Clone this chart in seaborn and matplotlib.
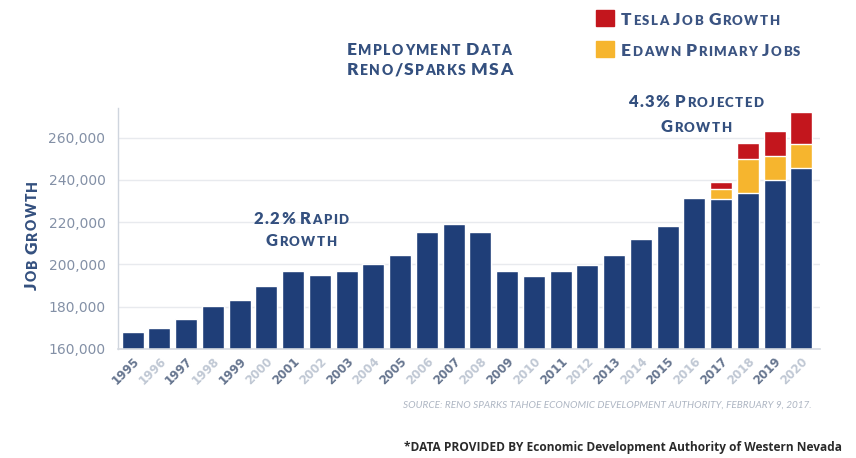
import matplotlib
matplotlib.use("Agg")
import matplotlib.pyplot as plt
import seaborn as sns
import pandas as pd
from matplotlib.patches import Rectangle

# ---- data ----
years = ["1995", "1996", "1997", "1998", "1999", "2000", "2001", "2002", "2003",
         "2004", "2005", "2006", "2007", "2008", "2009", "2010", "2011", "2012",
         "2013", "2014", "2015", "2016", "2017", "2018", "2019", "2020"]
base_jobs = [168000, 170000, 174000, 180500, 183000, 190000, 197000, 195000, 197000,
             200000, 204500, 215500, 219000, 215500, 197000, 194500, 197000, 199500,
             204500, 212000, 218000, 231500, 231000, 234000, 240000, 245500]
edawn_jobs = [0, 0, 0, 0, 0, 0, 0, 0, 0, 0, 0, 0, 0, 0, 0, 0, 0, 0, 0, 0, 0, 0,
              4500, 16000, 11500, 11500]
tesla_jobs = [0, 0, 0, 0, 0, 0, 0, 0, 0, 0, 0, 0, 0, 0, 0, 0, 0, 0, 0, 0, 0, 0,
              3500, 7500, 11500, 15000]
y_ticks = [160000, 180000, 200000, 220000, 240000, 260000]
legend_labels = ["Tesla Job Growth", "Edawn Primary Jobs"]

NAVY = "#1f3e78"
RED = "#c3161d"
YELLOW = "#f6b52e"
TITLE_C = "#34507f"

df = pd.DataFrame({"year": years, "base": base_jobs, "edawn": edawn_jobs, "tesla": tesla_jobs})
df["with_edawn"] = df["base"] + df["edawn"]
df["total"] = df["with_edawn"] + df["tesla"]

sns.set_theme(style="white")
plt.rcParams["font.family"] = ["Lato", "DejaVu Sans"]

W, H = 856, 458
fig = plt.figure(figsize=(W / 100, H / 100), dpi=100)
ax = fig.add_axes([118 / W, 1 - 349 / H, (820 - 118) / W, (349 - 108) / H])

bw = 0.82
sns.barplot(data=df, x="year", y="total", color=RED, saturation=1, width=bw, ax=ax)
sns.barplot(data=df, x="year", y="with_edawn", color=YELLOW, saturation=1, width=bw, ax=ax)
sns.barplot(data=df, x="year", y="base", color=NAVY, saturation=1, width=bw, ax=ax)

ax.set_ylim(160000, 274000)
ax.set_xlim(-0.55, 25.7)
ax.set_yticks(y_ticks)
ax.set_yticklabels([f"{v:,}" for v in y_ticks], fontsize=10, color="#8390a6",
                   family=["DejaVu Sans"])
ax.tick_params(axis="y", length=0, pad=9)
ax.tick_params(axis="x", length=0, pad=4)
ax.set_xlabel("")
ax.set_ylabel("")
ax.grid(axis="y", color="#e8eaee", linewidth=1)
ax.set_axisbelow(True)
for s in ["top", "right"]:
    ax.spines[s].set_visible(False)
ax.spines["left"].set_color("#cfd5de")
ax.spines["left"].set_linewidth(1)
ax.spines["bottom"].set_color("#d5d9e0")
ax.spines["bottom"].set_linewidth(1.2)

ax.set_xticks(range(len(years)))
ax.set_xticklabels(years, rotation=45, ha="right", rotation_mode="anchor",
                   fontsize=8.5, fontweight="bold", family=["DejaVu Sans"])
for i, lab in enumerate(ax.get_xticklabels()):
    lab.set_color("#66758f" if i % 2 == 0 else "#c0c8d4")

renderer = fig.canvas.get_renderer()


def smallcaps(x_px, y_px, s, big, small, color, ha="left", rotation=0,
              track=1.4, space=5.0):
    items = []
    total = 0.0
    for k, ch in enumerate(s):
        if ch == " ":
            items.append((None, space))
            total += space
            continue
        size = small if ch.islower() else big
        t = fig.text(0, 0, ch.upper(), fontsize=size, fontweight="heavy", color=color,
                     va="baseline", ha="left")
        w = t.get_window_extent(renderer).width
        nxt = s[k + 1] if k + 1 < len(s) else " "
        if nxt != " ":
            w += track
        items.append((t, w))
        total += w
    if ha == "center":
        start = -total / 2
    elif ha == "right":
        start = -total
    else:
        start = 0.0
    pos = start
    for t, w in items:
        if t is not None:
            if rotation == 90:
                t.set_rotation(90)
                t.set_rotation_mode("anchor")
                t.set_position((x_px / W, 1 - (y_px - pos) / H))
            else:
                t.set_position(((x_px + pos) / W, 1 - y_px / H))
        pos += w


# titles
smallcaps(347, 55, "Employment Data", 12.5, 10, TITLE_C)
smallcaps(347, 75, "Reno/Sparks MSA", 12.5, 10, TITLE_C)

# annotations
smallcaps(301, 224, "2.2% Rapid", 12, 9.5, TITLE_C, ha="center")
smallcaps(301, 246, "Growth", 12, 9.5, TITLE_C, ha="center")
smallcaps(696, 107, "4.3% Projected", 12, 9.5, TITLE_C, ha="center")
smallcaps(696, 132, "Growth", 12, 9.5, TITLE_C, ha="center")

# y label
smallcaps(37, 235, "Job Growth", 12.5, 10, TITLE_C, ha="center", rotation=90)

# legend
fig.patches.append(Rectangle((596 / W, 1 - 26 / H), 18 / W, 16 / H,
                             transform=fig.transFigure, color=RED))
fig.patches.append(Rectangle((596 / W, 1 - 57 / H), 18 / W, 16 / H,
                             transform=fig.transFigure, color=YELLOW))
smallcaps(621, 25, legend_labels[0], 12.5, 9.5, "#3b5482")
smallcaps(621, 56, legend_labels[1], 12.5, 9.5, "#3b5482")

# source / footer
fig.text(812 / W, 1 - 405 / H,
         "SOURCE: RENO SPARKS TAHOE ECONOMIC DEVELOPMENT AUTHORITY, FEBRUARY 9, 2017.",
         ha="right", va="center", fontsize=7.2, style="italic", color="#aeb6c3")
fig.text(842 / W, 1 - 448 / H,
         "*DATA PROVIDED BY Economic Development Authority of Western Nevada",
         ha="right", va="center", fontsize=8.6, fontweight="bold", color="#2a2a2a",
         family=["Open Sans", "DejaVu Sans"])

fig.savefig("out.png", dpi=100)
